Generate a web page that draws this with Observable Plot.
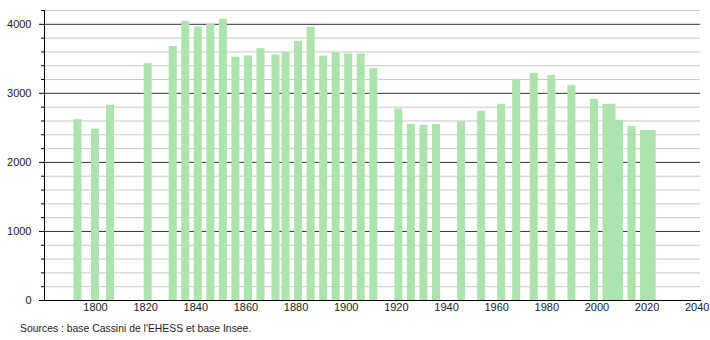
<!DOCTYPE html>
<html>
<head>
<meta charset="utf-8">
<script src="https://cdn.jsdelivr.net/npm/d3@7"></script>
<script src="https://cdn.jsdelivr.net/npm/@observablehq/plot@0.6"></script>
<style>
  html, body { margin: 0; padding: 0; background: #fff; }
  #chart { width: 710px; height: 340px; font-family: "Liberation Sans", Arial, sans-serif; }
  .caption { font-size: 10.4px; color: #222; margin: 4px 0 0 20px; line-height: 14px; }
</style>
</head>
<body>
<div id="chart"></div>
<script>
// Census years and population
const years = [1793,1800,1806,1821,1831,1836,1841,1846,1851,1856,1861,1866,1872,1876,1881,1886,1891,1896,1901,1906,1911,1921,1926,1931,1936,1946,1954,1962,1968,1975,1982,1990,1999,2004,2006,2009,2014,2019,2022];
const population = [2620,2483,2826,3430,3681,4043,3961,4000,4072,3522,3541,3647,3556,3589,3754,3957,3541,3589,3570,3570,3357,2773,2551,2536,2546,2589,2739,2841,3203,3290,3256,3116,2913,2841,2841,2609,2522,2464,2464];

// Axis ticks
const xTickLabels = [1800,1820,1840,1860,1880,1900,1920,1940,1960,1980,2000,2020,2040];
const yTickLabels = [0,1000,2000,3000,4000];
const yMinorTicks = [200,400,600,800,1200,1400,1600,1800,2200,2400,2600,2800,3200,3400,3600,3800,4200];
const yMajorGrid = [1000,2000,3000,4000];
const xDomain = [1779.66, 2041.3];
const yDomain = [0, 4200];
const barHalfWidth = 1.6; // years

const caption = "Sources : base Cassini de l'EHESS et base Insee.";

const data = years.map((year, i) => ({year, value: population[i]}));

const chart = Plot.plot({
  width: 710,
  height: 318,
  marginLeft: 44,
  marginRight: 10,
  marginTop: 10,
  marginBottom: 18,
  style: {fontFamily: '"Liberation Sans", Arial, sans-serif', fontSize: "11px", color: "#222", background: "#fff"},
  x: {domain: xDomain, label: null},
  y: {domain: yDomain, label: null},
  marks: [
    Plot.ruleY(yMinorTicks, {stroke: "#c8c8c8", strokeWidth: 1}),
    Plot.ruleY(yMajorGrid, {stroke: "#333", strokeWidth: 1}),
    Plot.rectY(data, {
      x1: d => d.year - barHalfWidth,
      x2: d => d.year + barHalfWidth,
      y1: 0,
      y2: "value",
      fill: "#ade3ad"
    }),
    Plot.frame({anchor: "left", stroke: "#000"}),
    Plot.frame({anchor: "bottom", stroke: "#000"}),
    Plot.axisY(yMinorTicks, {tickSize: 3, fill: "none", stroke: "#000"}),
    Plot.axisY(yTickLabels, {tickSize: 5, tickPadding: 8, stroke: "#000", fill: "#222", tickFormat: d => String(d)}),
    Plot.axisX(xTickLabels, {tickSize: 0, tickPadding: 3, fill: "#222", tickFormat: d => String(d)})
  ]
});

const root = document.getElementById("chart");
root.appendChild(chart);
const cap = document.createElement("div");
cap.className = "caption";
cap.textContent = caption;
root.appendChild(cap);
</script>
</body>
</html>
